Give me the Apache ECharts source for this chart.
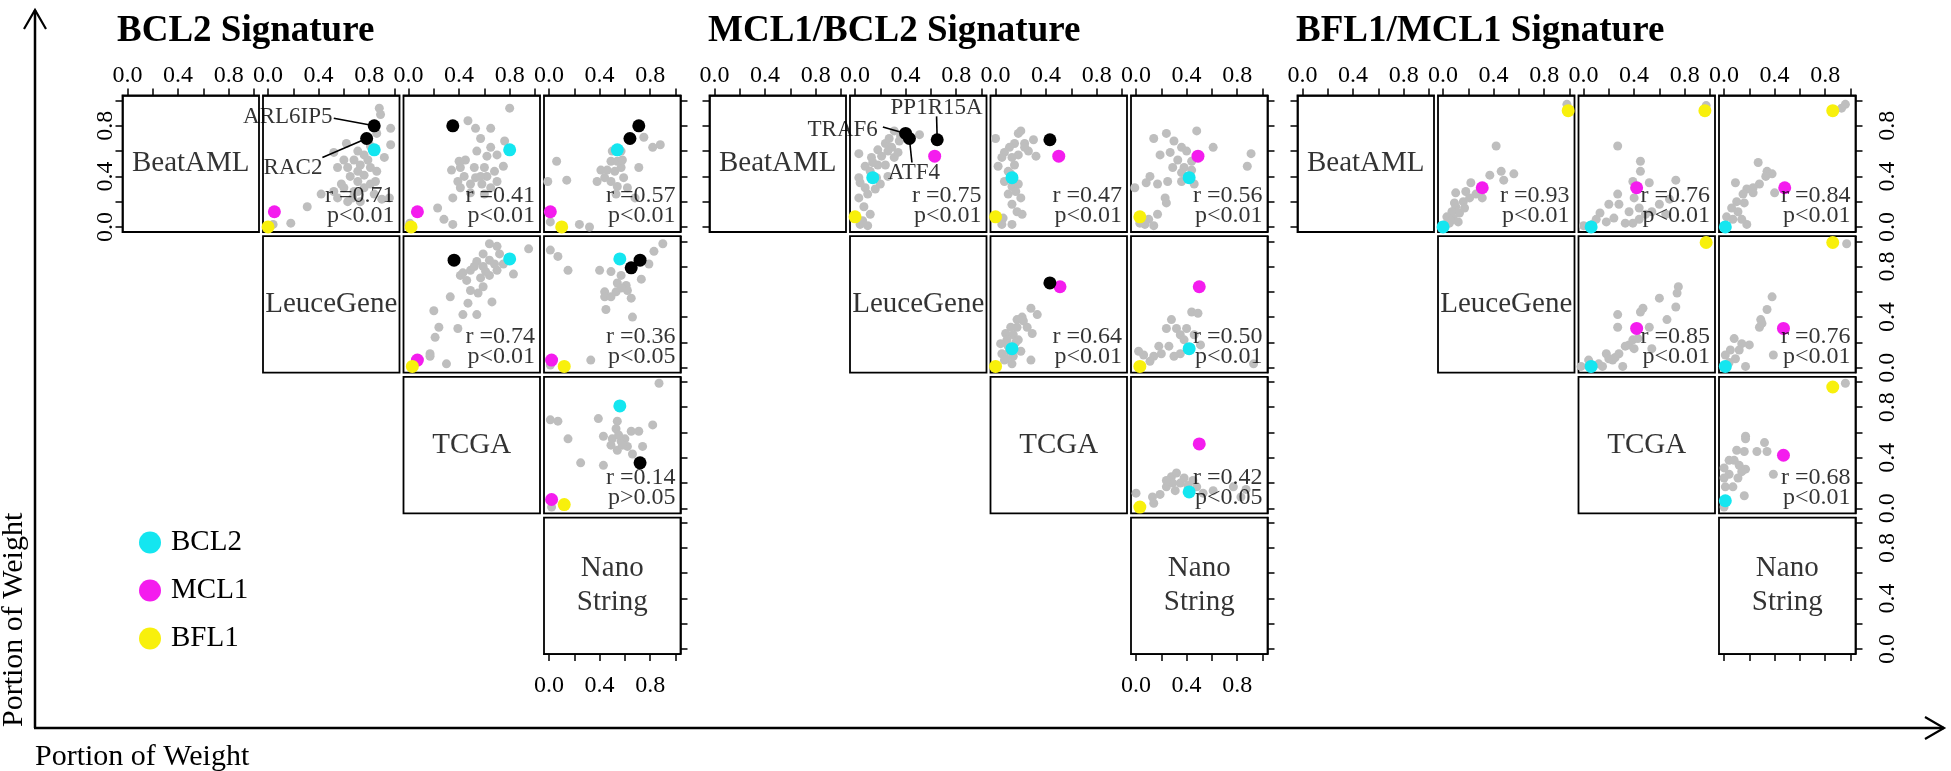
<!DOCTYPE html>
<html><head><meta charset="utf-8">
<script src="https://cdn.jsdelivr.net/npm/echarts@6/dist/echarts.min.js"></script>
<style>html,body{margin:0;padding:0;background:#fff}#c{width:1951px;height:771px}</style>
</head><body><div id="c"></div>
<script>
// ---------------- data ----------------
const datasetNames = ['BeatAML', 'LeuceGene', 'TCGA', 'Nano\nString'];
const signatureTitles = ['BCL2 Signature', 'MCL1/BCL2 Signature', 'BFL1/MCL1 Signature'];
const axisTickValues = [0, 0.2, 0.4, 0.6, 0.8, 1.0];
const axisLabelValues = [0, 0.4, 0.8];
const markerNames = ['BCL2', 'MCL1', 'BFL1'];
const axisTitle = 'Portion of Weight';

// BCL2 signature: grey genes, marked genes [BCL2, MCL1, BFL1], other highlighted genes
const bcl2_12_grey = [[0.88,0.94],[0.89,0.89],[0.97,0.78],[0.86,0.74],[0.97,0.65],[0.81,0.64],[0.76,0.57],[0.71,0.60],[0.68,0.53],[0.73,0.49],[0.63,0.47],[0.71,0.44],[0.65,0.40],[0.76,0.41],[0.81,0.47],[0.71,0.36],[0.60,0.31],[0.52,0.28],[0.55,0.47],[0.62,0.66],[0.76,0.31],[0.81,0.34],[0.58,0.34],[0.68,0.28],[0.84,0.26],[0.90,0.22],[0.96,0.23],[0.55,0.23],[0.63,0.20],[0.42,0.26],[0.31,0.16],[0.18,0.03],[0.04,0.02],[0.86,0.44],[0.92,0.55],[0.79,0.53],[0.60,0.53],[0.52,0.59],[0.71,0.28],[0.67,0.23],[0.73,0.20],[0.85,0.36]];
const bcl2_12_marked = [[0.84,0.61],[0.05,0.12],[0.00,0.00]];
const bcl2_12_genes = [[0.84,0.80],[0.78,0.70]];
const bcl2_13_grey = [[0.80,0.94],[0.47,0.84],[0.53,0.78],[0.65,0.78],[0.57,0.70],[0.76,0.68],[0.65,0.63],[0.54,0.60],[0.45,0.53],[0.62,0.56],[0.70,0.57],[0.75,0.48],[0.34,0.45],[0.41,0.47],[0.52,0.47],[0.60,0.47],[0.44,0.40],[0.53,0.39],[0.62,0.40],[0.68,0.44],[0.49,0.34],[0.58,0.34],[0.65,0.31],[0.41,0.31],[0.49,0.27],[0.60,0.26],[0.35,0.23],[0.23,0.15],[0.28,0.06],[0.35,0.02],[0.57,0.40],[0.40,0.52],[0.70,0.36],[0.39,0.36],[0.01,0.03]];
const bcl2_13_marked = [[0.80,0.61],[0.07,0.12],[0.02,0.00]];
const bcl2_13_genes = [[0.35,0.80]];
const bcl2_14_grey = [[0.75,0.71],[0.82,0.63],[0.88,0.65],[0.06,0.52],[0.14,0.37],[-0.01,0.36],[0.49,0.52],[0.54,0.52],[0.46,0.45],[0.52,0.44],[0.57,0.47],[0.41,0.45],[0.59,0.39],[0.49,0.36],[0.54,0.32],[0.38,0.36],[0.62,0.31],[0.53,0.26],[0.68,0.23],[0.24,0.02],[0.32,0.00],[0.01,0.04],[0.58,0.53],[0.44,0.39],[0.50,0.60],[0.57,0.60],[0.71,0.47]];
const bcl2_14_marked = [[0.54,0.61],[0.01,0.12],[0.10,0.00]];
const bcl2_14_genes = [[0.71,0.80],[0.64,0.70]];
const bcl2_23_grey = [[0.64,0.98],[0.70,0.96],[0.95,0.94],[0.59,0.90],[0.72,0.90],[0.64,0.85],[0.54,0.84],[0.59,0.80],[0.70,0.77],[0.49,0.77],[0.41,0.73],[0.46,0.69],[0.57,0.71],[0.64,0.73],[0.83,0.74],[0.49,0.61],[0.55,0.59],[0.33,0.56],[0.47,0.51],[0.66,0.52],[0.20,0.45],[0.43,0.42],[0.54,0.42],[0.24,0.32],[0.39,0.31],[0.21,0.24],[0.17,0.11],[0.17,0.09],[0.30,0.03],[0.75,0.82],[0.59,0.64],[0.43,0.75],[0.52,0.80],[0.68,0.82],[0.61,0.76]];
const bcl2_23_marked = [[0.80,0.86],[0.07,0.06],[0.03,0.01]];
const bcl2_23_genes = [[0.36,0.85]];
const bcl2_24_grey = [[0.90,0.98],[0.83,0.92],[0.79,0.82],[0.01,0.93],[0.07,0.88],[0.15,0.77],[0.40,0.77],[0.49,0.76],[0.73,0.70],[0.57,0.73],[0.54,0.67],[0.61,0.65],[0.44,0.60],[0.44,0.56],[0.53,0.60],[0.62,0.61],[0.65,0.55],[0.45,0.46],[0.66,0.40],[0.33,0.06],[0.57,0.63],[0.49,0.56],[0.01,0.02]];
const bcl2_24_marked = [[0.56,0.86],[0.02,0.06],[0.12,0.01]];
const bcl2_24_genes = [[0.72,0.85],[0.65,0.79]];
const bcl2_34_grey = [[0.87,0.99],[0.01,0.70],[0.07,0.69],[0.15,0.55],[0.39,0.71],[0.54,0.69],[0.82,0.66],[0.43,0.57],[0.50,0.55],[0.60,0.55],[0.65,0.61],[0.71,0.61],[0.53,0.63],[0.57,0.53],[0.62,0.49],[0.74,0.49],[0.49,0.50],[0.66,0.43],[0.25,0.36],[0.43,0.34],[0.54,0.46],[0.02,0.01],[0.55,0.58],[0.58,0.50]];
const bcl2_34_marked = [[0.56,0.81],[0.02,0.07],[0.12,0.03]];
const bcl2_34_genes = [[0.72,0.36]];
const bcl2_stats = [['0.71','<0.01'],['0.41','<0.01'],['0.57','<0.01'],['0.74','<0.01'],['0.36','<0.05'],['0.14','>0.05']];

// MCL1/BCL2 signature
const mcl1_12_grey = [[0.03,0.58],[0.31,0.76],[0.51,0.73],[0.24,0.66],[0.18,0.61],[0.29,0.63],[0.35,0.68],[0.13,0.55],[0.21,0.56],[0.26,0.60],[0.08,0.48],[0.18,0.49],[0.12,0.44],[0.26,0.40],[0.04,0.35],[0.08,0.31],[0.16,0.30],[0.03,0.23],[0.10,0.26],[0.07,0.16],[0.12,0.10],[0.04,0.02],[0.10,0.01],[0.20,0.34],[0.31,0.55],[0.17,0.39],[0.03,0.39],[0.24,0.49],[0.14,0.51],[0.34,0.59],[0.36,0.72],[0.27,0.70],[0.06,0.05]];
const mcl1_12_marked = [[0.14,0.39],[0.63,0.56],[0.00,0.08]];
const mcl1_12_genes = [[0.40,0.74],[0.43,0.70],[0.65,0.69]];
const mcl1_13_grey = [[0.00,0.70],[0.18,0.74],[0.20,0.76],[0.30,0.69],[0.23,0.66],[0.15,0.66],[0.11,0.63],[0.07,0.59],[0.26,0.60],[0.32,0.56],[0.05,0.55],[0.18,0.57],[0.02,0.48],[0.15,0.49],[0.10,0.44],[0.07,0.36],[0.13,0.32],[0.18,0.34],[0.10,0.26],[0.20,0.23],[0.13,0.18],[0.17,0.12],[0.21,0.10],[0.06,0.07],[0.05,0.02],[0.13,0.02],[0.23,0.63],[0.13,0.55],[0.12,0.42],[0.16,0.28]];
const mcl1_13_marked = [[0.13,0.39],[0.50,0.56],[0.00,0.08]];
const mcl1_13_genes = [[0.43,0.69]];
const mcl1_14_grey = [[0.14,0.70],[0.24,0.74],[0.30,0.68],[0.48,0.76],[0.61,0.63],[0.91,0.58],[0.88,0.48],[0.19,0.57],[0.27,0.59],[0.36,0.63],[0.40,0.60],[0.33,0.53],[0.44,0.52],[0.38,0.47],[0.36,0.43],[0.44,0.45],[0.29,0.47],[0.11,0.40],[0.08,0.35],[0.17,0.34],[-0.01,0.31],[0.25,0.36],[0.36,0.36],[0.24,0.19],[0.17,0.10],[0.10,0.06],[0.07,0.02],[0.14,0.01],[0.23,0.23],[0.46,0.34],[0.03,0.03]];
const mcl1_14_marked = [[0.42,0.39],[0.49,0.56],[0.03,0.08]];
const mcl1_14_genes = [];
const mcl1_23_grey = [[0.28,0.47],[0.33,0.42],[0.21,0.40],[0.17,0.32],[0.25,0.32],[0.29,0.27],[0.08,0.27],[0.14,0.26],[0.09,0.22],[0.18,0.22],[0.04,0.19],[0.11,0.13],[0.20,0.13],[0.14,0.09],[0.07,0.06],[0.28,0.06],[0.05,0.11],[0.17,0.38],[0.22,0.37],[0.12,0.32],[0.08,0.07],[0.13,0.03],[0.10,0.17],[0.16,0.20]];
const mcl1_23_marked = [[0.13,0.15],[0.51,0.64],[0.00,0.01]];
const mcl1_23_genes = [[0.43,0.67]];
const mcl1_24_grey = [[0.44,0.44],[0.49,0.43],[0.28,0.38],[0.24,0.31],[0.32,0.31],[0.40,0.31],[0.35,0.26],[0.46,0.26],[0.18,0.17],[0.26,0.17],[0.06,0.10],[0.14,0.09],[0.02,0.13],[0.20,0.11],[0.30,0.09],[0.35,0.11],[0.93,0.03],[0.11,0.05],[0.38,0.22],[0.51,0.18]];
const mcl1_24_marked = [[0.42,0.15],[0.50,0.64],[0.03,0.01]];
const mcl1_24_genes = [];
const mcl1_34_grey = [[0.00,0.12],[0.13,0.09],[0.19,0.11],[0.14,0.04],[0.24,0.17],[0.28,0.25],[0.32,0.28],[0.29,0.20],[0.35,0.20],[0.38,0.24],[0.41,0.18],[0.48,0.17],[0.61,0.14],[0.77,0.17],[0.87,0.15],[0.83,0.09],[0.53,0.12],[0.31,0.14],[0.45,0.22],[0.24,0.22]];
const mcl1_34_marked = [[0.42,0.13],[0.50,0.51],[0.03,0.01]];
const mcl1_34_genes = [];
const mcl1_stats = [['0.75','<0.01'],['0.47','<0.01'],['0.56','<0.01'],['0.64','<0.01'],['0.50','<0.01'],['0.42','<0.05']];

// BFL1/MCL1 signature
const bfl1_12_grey = [[0.98,0.97],[0.42,0.64],[0.46,0.44],[0.56,0.42],[0.48,0.37],[0.37,0.41],[0.22,0.35],[0.10,0.27],[0.18,0.28],[0.26,0.26],[0.31,0.23],[0.16,0.20],[0.10,0.16],[0.07,0.12],[0.03,0.08],[0.08,0.07],[0.13,0.11],[0.05,0.03],[0.12,0.04],[0.21,0.23],[0.17,0.15],[0.09,0.19],[0.02,0.02],[0.06,0.05]];
const bfl1_12_marked = [[0.00,0.00],[0.31,0.31],[0.99,0.92]];
const bfl1_13_grey = [[0.97,0.96],[0.27,0.64],[0.45,0.52],[0.45,0.44],[0.39,0.36],[0.52,0.35],[0.73,0.37],[0.27,0.26],[0.40,0.23],[0.20,0.18],[0.28,0.18],[0.13,0.11],[0.36,0.12],[0.44,0.15],[0.49,0.10],[0.54,0.12],[0.60,0.18],[0.65,0.10],[0.24,0.07],[0.18,0.04],[0.07,0.02],[0.00,0.01],[0.44,0.06],[0.33,0.03],[0.68,0.22],[0.10,0.06],[0.39,0.03]];
const bfl1_13_marked = [[0.06,0.00],[0.42,0.31],[0.96,0.92]];
const bfl1_14_grey = [[0.96,0.97],[0.93,0.94],[0.27,0.51],[0.34,0.44],[0.38,0.42],[0.09,0.35],[0.28,0.34],[0.33,0.40],[0.18,0.30],[0.23,0.27],[0.15,0.26],[0.40,0.27],[0.10,0.20],[0.16,0.19],[0.06,0.15],[0.11,0.12],[0.02,0.08],[0.07,0.06],[0.18,0.02],[0.14,0.06],[0.23,0.31]];
const bfl1_14_marked = [[0.01,0.00],[0.48,0.31],[0.86,0.92]];
const bfl1_23_grey = [[0.75,0.64],[0.74,0.59],[0.60,0.55],[0.73,0.48],[0.66,0.38],[0.47,0.47],[0.45,0.44],[0.27,0.42],[0.27,0.32],[0.52,0.32],[0.39,0.22],[0.54,0.15],[0.33,0.17],[0.28,0.11],[0.18,0.11],[0.23,0.06],[0.31,0.01],[0.04,0.06],[-0.02,0.01],[0.12,0.03],[0.36,0.18],[0.43,0.23],[0.20,0.07],[0.15,0.01],[0.40,0.15],[0.25,0.08]];
const bfl1_23_marked = [[0.06,0.01],[0.42,0.31],[0.97,0.99]];
const bfl1_24_grey = [[0.97,0.98],[0.38,0.56],[0.34,0.46],[0.29,0.38],[0.28,0.32],[0.08,0.23],[0.14,0.19],[0.20,0.18],[0.05,0.14],[0.12,0.14],[0.01,0.10],[0.09,0.07],[0.17,0.01],[0.39,0.10],[0.30,0.35],[0.04,0.04]];
const bfl1_24_marked = [[0.01,0.01],[0.47,0.31],[0.86,0.99]];
const bfl1_34_grey = [[0.96,0.99],[0.17,0.57],[0.17,0.55],[0.32,0.52],[0.10,0.46],[0.16,0.45],[0.26,0.45],[0.34,0.45],[0.04,0.38],[0.08,0.38],[0.12,0.34],[0.17,0.31],[0.00,0.32],[0.04,0.27],[0.11,0.24],[0.01,0.17],[0.00,0.24],[0.39,0.27],[0.16,0.10],[0.00,0.01],[0.07,0.17],[0.14,0.29]];
const bfl1_34_marked = [[0.01,0.06],[0.47,0.42],[0.86,0.96]];
const bfl1_stats = [['0.93','<0.01'],['0.76','<0.01'],['0.84','<0.01'],['0.85','<0.01'],['0.76','<0.01'],['0.68','<0.01']];

// ---------------- layout / style ----------------
const FONT = 'Liberation Serif';
const COLORS = {BCL2: '#14E6F0', MCL1: '#F41CEE', BFL1: '#F8F00C'};
const GREY = '#BEBEBE';
const GL = [122.5, 709.5, 1297.5], CP = 140.5, RP = 140.7, TOP = 95.5, PW = 136.5, PH = 136.5;
const XR = [-0.04, 1.04];

const pairs = [[0,1],[0,2],[0,3],[1,2],[1,3],[2,3]];
const groupData = [
  {grey:[bcl2_12_grey,bcl2_13_grey,bcl2_14_grey,bcl2_23_grey,bcl2_24_grey,bcl2_34_grey],
   marked:[bcl2_12_marked,bcl2_13_marked,bcl2_14_marked,bcl2_23_marked,bcl2_24_marked,bcl2_34_marked],
   genes:[bcl2_12_genes,bcl2_13_genes,bcl2_14_genes,bcl2_23_genes,bcl2_24_genes,bcl2_34_genes], stats:bcl2_stats},
  {grey:[mcl1_12_grey,mcl1_13_grey,mcl1_14_grey,mcl1_23_grey,mcl1_24_grey,mcl1_34_grey],
   marked:[mcl1_12_marked,mcl1_13_marked,mcl1_14_marked,mcl1_23_marked,mcl1_24_marked,mcl1_34_marked],
   genes:[mcl1_12_genes,mcl1_13_genes,mcl1_14_genes,mcl1_23_genes,mcl1_24_genes,mcl1_34_genes], stats:mcl1_stats},
  {grey:[bfl1_12_grey,bfl1_13_grey,bfl1_14_grey,bfl1_23_grey,bfl1_24_grey,bfl1_34_grey],
   marked:[bfl1_12_marked,bfl1_13_marked,bfl1_14_marked,bfl1_23_marked,bfl1_24_marked,bfl1_34_marked],
   genes:[[],[],[],[],[],[]], stats:bfl1_stats}
];

// gene name call-outs (anchor of text, start of leader line -> gene point)
const callouts = [
  {g:0, p:0, gene:0, text:'ARL6IP5', at:[0.51,0.87], from:[0.52,0.86], align:'right'},
  {g:0, p:0, gene:1, text:'RAC2', at:[0.43,0.47], from:[0.43,0.55], align:'right'},
  {g:1, p:0, gene:2, text:'PP1R15A', at:[0.645,0.94], from:[0.645,0.875], align:'center'},
  {g:1, p:0, gene:0, text:'TRAF6', at:[0.18,0.765], from:[0.22,0.79], align:'right'},
  {g:1, p:0, gene:1, text:'ATF4', at:[0.465,0.43], from:[0.45,0.51], align:'center'}
];

const grids = [], xAxes = [], yAxes = [], series = [];
const tickStyle = {color:'#000', width:1.5};
function makeAxis(dim, k, cfg) {
  return {
    gridIndex:k, type:'value', min:XR[0], max:XR[1], show:!!cfg, position:cfg ? cfg.pos : undefined,
    axisLine:{show:true, onZero:false, lineStyle:tickStyle},
    axisTick:{show:true, inside:false, length:7, customValues:axisTickValues, lineStyle:tickStyle},
    axisLabel:{show:cfg ? cfg.labels : false, customValues:axisLabelValues, formatter:v => v.toFixed(1),
      margin:cfg ? cfg.margin : 8, rotate:cfg && cfg.rotate ? cfg.rotate : 0,
      fontFamily:FONT, fontSize:24, color:'#000'},
    splitLine:{show:false}
  };
}
const panelIndex = {};
for (let g = 0; g < 3; g++) {
  for (let i = 0; i < 4; i++) {
    for (let j = i; j < 4; j++) {
      const k = grids.length;
      panelIndex[g + '_' + i + '_' + j] = k;
      grids.push({left:GL[g] + j * CP, top:TOP + i * RP, width:PW, height:PH, show:true,
        borderColor:'#000', borderWidth:1.8, backgroundColor:'transparent', outerBoundsMode:'none'});
      let xc = null, yc = null;
      if (i === 0) xc = {pos:'top', labels:true, margin:8};
      if (i === 3 && j === 3) xc = {pos:'bottom', labels:g < 2, margin:20};
      if (j === 0 && i === 0) yc = {pos:'left', labels:g === 0, margin:5, rotate:90};
      if (j === 3) yc = {pos:'right', labels:g === 2, margin:20, rotate:90};
      xAxes.push(makeAxis('x', k, xc));
      yAxes.push(makeAxis('y', k, yc));
      if (i === j) {
        series.push({type:'scatter', xAxisIndex:k, yAxisIndex:k, symbolSize:0, silent:true,
          data:[{value:[0.5,0.5], name:datasetNames[i]}],
          label:{show:true, position:'inside', formatter:'{b}', align:'center', verticalAlign:'middle',
            fontFamily:FONT, fontSize:29, lineHeight:34, color:'#000'}});
      }
    }
  }
}
for (let g = 0; g < 3; g++) {
  const D = groupData[g];
  pairs.forEach(([i, j], p) => {
    const k = panelIndex[g + '_' + i + '_' + j];
    series.push({type:'scatter', xAxisIndex:k, yAxisIndex:k, symbolSize:9, silent:true,
      itemStyle:{color:GREY, opacity:1}, data:D.grey[p], z:2});
    callouts.filter(c => c.g === g && c.p === p).forEach(c => {
      series.push({type:'line', xAxisIndex:k, yAxisIndex:k, symbol:'none', silent:true, clip:false, z:3,
        lineStyle:{color:'#000', width:1.6}, data:[c.from, D.genes[p][c.gene]]});
      series.push({type:'scatter', xAxisIndex:k, yAxisIndex:k, symbolSize:0, silent:true, clip:false, z:3,
        data:[{value:c.at, name:c.text}],
        label:{show:true, position:'inside', formatter:'{b}', align:c.align, verticalAlign:'middle',
          fontFamily:FONT, fontSize:23, color:'#000'}});
    });
    markerNames.forEach((m, q) => {
      series.push({type:'scatter', name:m, xAxisIndex:k, yAxisIndex:k, symbolSize:13, silent:true, z:4,
        itemStyle:{color:COLORS[m], opacity:1}, data:[D.marked[p][q]]});
    });
    if (D.genes[p].length) {
      series.push({type:'scatter', xAxisIndex:k, yAxisIndex:k, symbolSize:13, silent:true, z:4,
        itemStyle:{color:'#000', opacity:1}, data:D.genes[p]});
    }
    const [r, pv] = D.stats[p];
    series.push({type:'scatter', xAxisIndex:k, yAxisIndex:k, symbolSize:0, silent:true, clip:false, z:5,
      data:[{value:[1.0, 0.165], name:'r =' + r + '\np' + pv}],
      label:{show:true, position:'inside', formatter:'{b}', align:'right', verticalAlign:'middle',
        fontFamily:FONT, fontSize:24, lineHeight:20, color:'#000'}});
  });
}

const option = {
  animation:false,
  backgroundColor:'#fff',
  title: signatureTitles.map((t, g) => ({text:t, left:[117, 708, 1296][g], top:13, padding:0,
    textStyle:{fontFamily:FONT, fontWeight:'bold', fontSize:37, color:'#000'}})),
  legend:{data:markerNames, orient:'vertical', left:139, top:528, itemWidth:22, itemHeight:22, itemGap:19,
    icon:'circle', selectedMode:false, padding:0,
    textStyle:{fontFamily:FONT, fontSize:29, lineHeight:28, color:'#000', padding:[0,0,0,5]}},
  grid:grids, xAxis:xAxes, yAxis:yAxes, series:series,
  graphic:[
    {type:'line', shape:{x1:35, y1:10, x2:35, y2:728}, style:{stroke:'#000', lineWidth:2.5}},
    {type:'polyline', shape:{points:[[24,29],[35,10],[46,29]]}, style:{stroke:'#000', lineWidth:2.2, fill:null}},
    {type:'line', shape:{x1:34, y1:728, x2:1944, y2:728}, style:{stroke:'#000', lineWidth:2.5}},
    {type:'polyline', shape:{points:[[1925,717],[1944,728],[1925,739]]}, style:{stroke:'#000', lineWidth:2.2, fill:null}},
    {type:'text', x:35, y:757, style:{text:axisTitle, font:'30px "Liberation Serif"', fill:'#000', align:'left', verticalAlign:'middle'}},
    {type:'text', x:14, y:727, rotation:Math.PI/2, style:{text:axisTitle, font:'30px "Liberation Serif"', fill:'#000', align:'left', verticalAlign:'middle'}}
  ]
};
const chart = echarts.init(document.getElementById('c'), null, {renderer:'canvas'});
chart.setOption(option);
</script></body></html>
